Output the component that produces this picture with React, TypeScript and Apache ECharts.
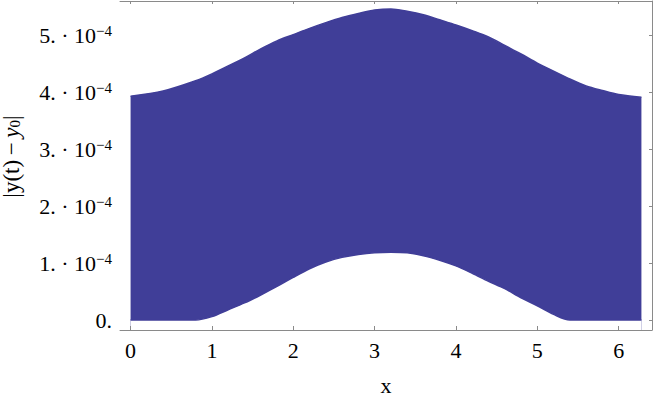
import React, { useEffect, useRef } from "react";
import * as echarts from "echarts";

// sample positions along x (0 .. 2π)
const xValues = [0, 0.4, 0.8, 1.0, 1.2, 1.4, 1.6, 1.8, 2.0, 2.2, 2.4, 2.6, 2.8, 3.0, 3.2, 3.4, 3.6, 3.8, 4.0, 4.2, 4.4, 4.6, 4.8, 5.0, 5.2, 5.4, 5.6, 5.8, 6.0, 6.28];
// upper edge of the scatter band, in units of 1e-4
const upperE4 = [3.93, 4.02, 4.2, 4.32, 4.46, 4.6, 4.76, 4.9, 5.01, 5.12, 5.22, 5.31, 5.38, 5.44, 5.46, 5.42, 5.36, 5.27, 5.18, 5.08, 4.97, 4.82, 4.67, 4.51, 4.37, 4.23, 4.11, 4.03, 3.96, 3.91];
// lower edge of the scatter band, in units of 1e-4
const lowerE4 = [0, 0, 0, 0.06, 0.18, 0.3, 0.44, 0.59, 0.75, 0.9, 1.02, 1.1, 1.15, 1.18, 1.19, 1.18, 1.13, 1.05, 0.95, 0.82, 0.68, 0.55, 0.39, 0.25, 0.1, 0, 0, 0, 0, 0];

const xTicks = [0, 1, 2, 3, 4, 5, 6];
const yTicks = [0, 0.0001, 0.0002, 0.0003, 0.0004, 0.0005];

const BAND = "#403e98";
const FONT = "'Liberation Serif', 'Times New Roman', serif";
const AXIS = "#8a8a8a";

export default function App() {
  const ref = useRef<HTMLDivElement>(null);
  useEffect(() => {
    if (!ref.current) return;
    const chart = echarts.init(ref.current, undefined, { renderer: "svg" });
    const upper = xValues.map((x, i) => [x, upperE4[i] * 1e-4]);
    const lower = xValues.map((x, i) => [x, lowerE4[i] * 1e-4]);
    const xRange = { min: -0.13, max: 6.41 };
    const yRange = { min: -0.0000175, max: 0.00056 };
    chart.setOption({
      animation: false,
      grid: { left: 120, right: 2, top: 1, bottom: 70, containLabel: false, outerBoundsMode: "none" },
      xAxis: [
        {
          type: "value",
          position: "bottom",
          z: 5,
          ...xRange,
          splitLine: { show: false },
          axisLine: { show: true, onZero: false, lineStyle: { color: AXIS, width: 1 } },
          axisTick: { show: true, inside: true, length: 4, customValues: xTicks, lineStyle: { color: AXIS } },
          axisLabel: {
            customValues: xTicks,
            margin: 9,
            fontFamily: FONT,
            fontSize: 22,
            color: "#000",
            formatter: (v: number) => String(v),
          },
          name: "x",
          nameLocation: "middle",
          nameGap: 44,
          nameTextStyle: { fontFamily: FONT, fontSize: 22, color: "#000" },
        },
        {
          type: "value",
          position: "top",
          z: 5,
          ...xRange,
          splitLine: { show: false },
          axisLine: { show: true, onZero: false, lineStyle: { color: AXIS, width: 1 } },
          axisTick: { show: true, inside: true, length: 3, customValues: xTicks, lineStyle: { color: AXIS } },
          axisLabel: { show: false },
        },
      ],
      yAxis: [
        {
          type: "value",
          position: "left",
          ...yRange,
          splitLine: { show: false },
          axisLine: { show: false },
          axisTick: { show: false },
          axisLabel: {
            customValues: yTicks,
            margin: 8,
            fontFamily: FONT,
            fontSize: 22,
            color: "#000",
            formatter: (v: number) => {
              const k = Math.round(v * 1e4);
              if (k === 0) return "{m|0.}";
              return `{m|${k}. · 10}{s|−4}`;
            },
            rich: {
              m: { fontFamily: FONT, fontSize: 22, color: "#000", lineHeight: 24 },
              s: { fontFamily: FONT, fontSize: 15, color: "#000", lineHeight: 14, verticalAlign: "top" },
            },
          },
          name: "{m||y(t)\u2009−\u2009}{i|y}{b|0}{m||}",
          nameLocation: "middle",
          nameRotate: 90,
          nameGap: 98,
          nameTextStyle: {
            padding: [0, 0, 0, 18],
            rich: {
              m: { fontFamily: FONT, fontSize: 23, color: "#000", lineHeight: 22 },
              i: { fontFamily: FONT, fontSize: 23, fontStyle: "italic", color: "#000", lineHeight: 22 },
              b: { fontFamily: FONT, fontSize: 15, color: "#000", lineHeight: 14, verticalAlign: "bottom" },
            },
          },
        },
        {
          type: "value",
          position: "right",
          z: 5,
          ...yRange,
          splitLine: { show: false },
          axisLine: { show: true, onZero: false, lineStyle: { color: AXIS, width: 1 } },
          axisTick: { show: true, inside: true, length: 3, customValues: yTicks, lineStyle: { color: AXIS } },
          axisLabel: { show: false },
        },
      ],
      series: [
        {
          type: "line",
          data: upper,
          smooth: 0.3,
          symbol: "none",
          lineStyle: { width: 1.5, color: BAND },
          areaStyle: { color: BAND, opacity: 1, origin: "start" },
          silent: true,
          z: 2,
        },
        {
          type: "line",
          data: lower,
          smooth: 0.3,
          symbol: "none",
          lineStyle: { width: 1.5, color: BAND },
          areaStyle: { color: "#ffffff", opacity: 1, origin: "start" },
          silent: true,
          z: 3,
        },
      ],
    });
    return () => chart.dispose();
  }, []);
  return (
    <div
      ref={ref}
      style={{ position: "fixed", left: 0, top: 0, width: 654, height: 400, background: "#fff" }}
    />
  );
}
